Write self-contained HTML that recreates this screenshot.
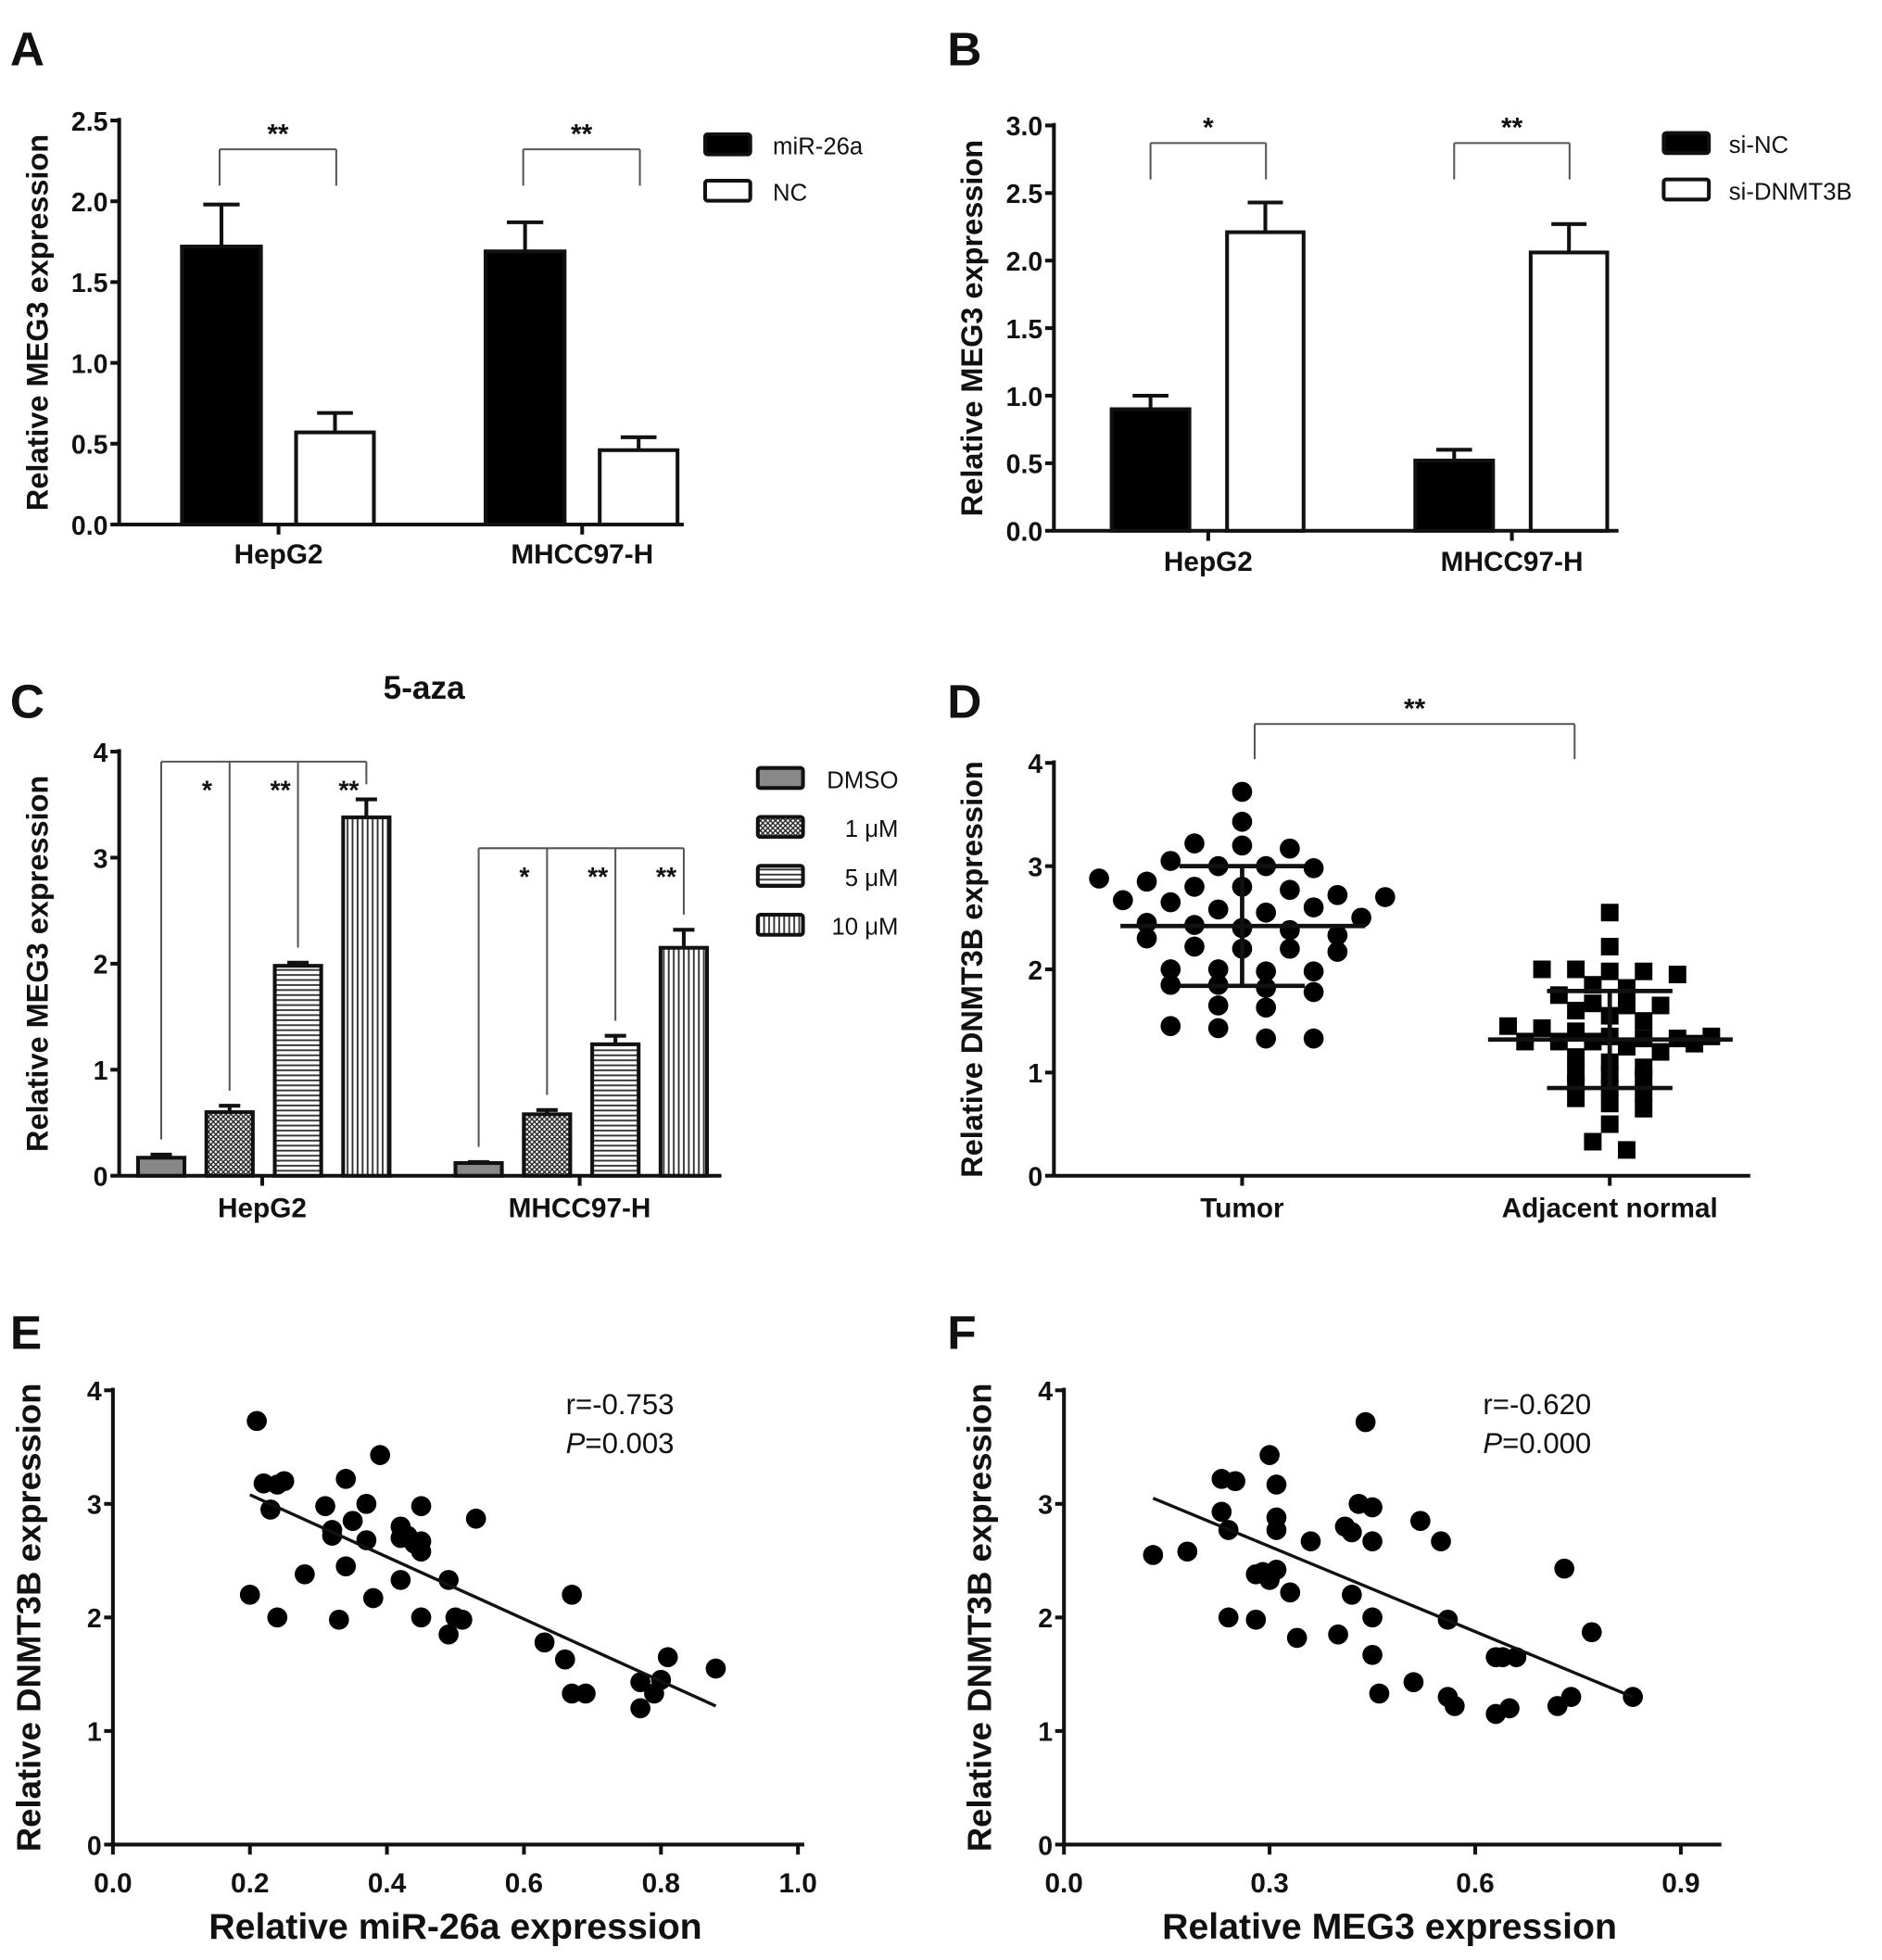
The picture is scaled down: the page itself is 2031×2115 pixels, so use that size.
<!DOCTYPE html>
<html><head><meta charset="utf-8">
<style>
html,body{margin:0;padding:0;background:#fff;}
svg{display:block;font-family:"Liberation Sans",Arial,sans-serif;}
</style></head>
<body>
<svg id="fig" width="2031" height="2115" viewBox="0 0 1500 1562" preserveAspectRatio="none" xmlns="http://www.w3.org/2000/svg">
<defs>
<pattern id="pCheck" width="4" height="4" patternUnits="userSpaceOnUse"><rect width="4" height="4" fill="#fff"/><path d="M0 0L4 4M4 0L0 4" stroke="#222" stroke-width="1"/></pattern>
<pattern id="pH" width="4" height="4" patternUnits="userSpaceOnUse"><rect width="4" height="4" fill="#fff"/><path d="M0 1H4" stroke="#333" stroke-width="1.4"/></pattern>
<pattern id="pV" width="4" height="4" patternUnits="userSpaceOnUse"><rect width="4" height="4" fill="#fff"/><path d="M1 0V4" stroke="#333" stroke-width="1.4"/></pattern>
</defs>
</svg>
<script>
// ---------- DATA ----------
const aCats = ["HepG2","MHCC97-H"];
const aSeries = ["miR-26a","NC"];
const aMiR = [1.72,1.69];
const aMiRErr = [0.26,0.18];
const aNC = [0.57,0.46];
const aNCErr = [0.12,0.08];
const aTicks = ["0.0","0.5","1.0","1.5","2.0","2.5"];

const bCats = ["HepG2","MHCC97-H"];
const bSeries = ["si-NC","si-DNMT3B"];
const bSiNC = [0.90,0.52];
const bSiNCErr = [0.10,0.08];
const bSiD = [2.21,2.06];
const bSiDErr = [0.22,0.21];
const bTicks = ["0.0","0.5","1.0","1.5","2.0","2.5","3.0"];

const cCats = ["HepG2","MHCC97-H"];
const cSeries = ["DMSO","1 μM","5 μM","10 μM"];
const cHep = [0.17,0.60,1.98,3.38];
const cHepErr = [0.03,0.06,0.03,0.17];
const cMH = [0.12,0.58,1.24,2.15];
const cMHErr = [0.01,0.04,0.08,0.17];
const cTicks = ["0","1","2","3","4"];

const dCats = ["Tumor","Adjacent normal"];
const dTumor = [3.72,3.43,3.22,3.2,3.17,3.05,3.0,3.0,2.98,2.88,2.85,2.8,2.8,2.77,2.72,2.7,2.67,2.65,2.58,2.55,2.45,2.43,2.4,2.38,2.33,2.3,2.22,2.2,2.2,2.17,2.0,2.0,1.98,1.98,1.85,1.85,1.82,1.78,1.65,1.63,1.45,1.43,1.33,1.33,2.6,2.5];
const dNormal = [2.55,2.22,2.0,2.0,1.98,1.98,1.95,1.85,1.82,1.75,1.67,1.65,1.65,1.6,1.55,1.5,1.45,1.43,1.4,1.35,1.33,1.33,1.3,1.3,1.3,1.25,1.2,1.15,1.1,1.05,1.0,0.98,0.95,0.9,0.85,0.8,0.75,0.7,0.65,0.5,0.33,0.25,1.35,1.28];
const dMean = [2.42,1.32];
const dSD = [0.58,0.47];
const dTicks = ["0","1","2","3","4"];

const eX = [0.21,0.22,0.24,0.25,0.23,0.2,0.24,0.28,0.31,0.32,0.32,0.34,0.35,0.37,0.37,0.34,0.33,0.38,0.39,0.42,0.43,0.44,0.45,0.45,0.45,0.42,0.45,0.49,0.49,0.51,0.53,0.63,0.66,0.67,0.67,0.69,0.77,0.77,0.79,0.8,0.81,0.88,0.5,0.42];
const eY = [3.73,3.18,3.17,3.2,2.95,2.2,2.0,2.38,2.98,2.72,2.77,3.22,2.85,3.0,2.68,2.45,1.98,2.17,3.43,2.8,2.72,2.65,2.98,2.67,2.58,2.33,2.0,2.33,1.85,1.98,2.87,1.78,1.63,2.2,1.33,1.33,1.43,1.2,1.33,1.45,1.65,1.55,2.0,2.7];
const eFitX = [0.2,0.88];
const eFitY = [3.08,1.22];
const eXTicks = ["0.0","0.2","0.4","0.6","0.8","1.0"];

const fX = [0.13,0.18,0.23,0.23,0.24,0.25,0.24,0.28,0.28,0.3,0.3,0.31,0.31,0.31,0.31,0.33,0.34,0.36,0.4,0.41,0.42,0.42,0.43,0.44,0.45,0.45,0.45,0.45,0.46,0.51,0.52,0.55,0.56,0.56,0.57,0.63,0.64,0.63,0.65,0.66,0.72,0.73,0.74,0.77,0.83,0.29];
const fY = [2.55,2.58,3.22,2.93,2.77,3.2,2.0,2.38,1.98,2.33,3.43,3.17,2.88,2.77,2.42,2.22,1.82,2.67,1.85,2.8,2.75,2.2,3.0,3.72,2.97,2.67,2.0,1.67,1.33,1.43,2.85,2.67,1.98,1.3,1.22,1.65,1.65,1.15,1.2,1.65,1.22,2.43,1.3,1.87,1.3,2.4];
const fFitX = [0.13,0.83];
const fFitY = [3.05,1.3];
const fXTicks = ["0.0","0.3","0.6","0.9"];
const scatTicks = ["0","1","2","3","4"];

// ---------- HELPERS ----------
const svg = document.getElementById('fig');
const NS = 'http://www.w3.org/2000/svg';
function mk(tag, attrs, parent){
  const e = document.createElementNS(NS, tag);
  for (const k in attrs) e.setAttribute(k, attrs[k]);
  (parent||svg).appendChild(e);
  return e;
}
function txt(s, x, y, size, anchor, parent, extra){
  const t = mk('text', Object.assign({x:x,y:y,'font-size':size,'font-weight':'bold','text-anchor':anchor||'middle',fill:'#111'}, extra||{}), parent);
  t.textContent = s;
  return t;
}
function line(x1,y1,x2,y2,w,parent,col){
  return mk('line',{x1:x1,y1:y1,x2:x2,y2:y2,stroke:col||'#111','stroke-width':w||3},parent);
}
function yAxis(g, x0, yBottom, yTop, ticks, vmax, title, xEnd, titleSize, titleOff){
  const ax = line(x0, yBottom, x0, yTop-2, 3, g);
  
  
  const xa = line(x0, yBottom, xEnd, yBottom, 3, g);
  
  
  ticks.forEach(function(tk){
    const v = parseFloat(tk);
    const y = yBottom - v/vmax*(yBottom-yTop);
    line(x0-7, y, x0, y, 3, g);
    const t = txt(tk, x0-9, y+8, 21, 'end', g);
    
    
  });
  const tt = txt(title, 0, 0, titleSize||24, 'middle', g, {transform:'translate('+(x0-(titleOff||57))+','+((yBottom+yTop)/2)+') rotate(-90)'});
  
  
}
function panelLetter(s,x,y){
  const t = txt(s,x,y,38,'start');
  
  
}
function bar(g, x, w, yBottom, v, err, sc, fill, name){
  const h = v*sc;
  const r = mk('rect',{x:x,y:yBottom-h,width:w,height:h,fill:fill,stroke:'#111','stroke-width':3},g);
  
  
  const cx = x+w/2, yt = yBottom-h, ye = yBottom-(v+err)*sc;
  line(cx, yt, cx, ye, 3, g);
  line(cx-w*0.23, ye, cx+w*0.23, ye, 3, g);
}
function bracket(g, x1, x2, y, yd, label, col){
  line(x1, yd, x1, y, 1.5, g, col||'#555');
  line(x1, y, x2, y, 1.5, g, col||'#555');
  line(x2, y, x2, yd, 1.5, g, col||'#555');
  const t = txt(label, (x1+x2)/2, y-5, 22, 'middle', g);
  
  
}

// ---------- PANEL A ----------
(function(){
  const g = mk('g',{});
  
  
  panelLetter('A',8,52);
  const x0=95, yb=418, yt=96, vmax=2.5, sc=(yb-yt)/vmax;
  yAxis(g,x0,yb,yt,aTicks,vmax,'Relative MEG3 expression',545);
  const groupX=[145,387];
  aCats.forEach(function(c,i){
    bar(g, groupX[i], 63, yb, aMiR[i], aMiRErr[i], sc, '#000', 'bar-mir26a-'+c.toLowerCase());
    bar(g, groupX[i]+91, 62, yb, aNC[i], aNCErr[i], sc, '#fff', 'bar-nc-'+c.toLowerCase());
    line(groupX[i]+77, yb, groupX[i]+77, yb+8, 3, g);
    const t = txt(c, groupX[i]+77, 449, 22, 'middle', g);
    
    
    bracket(g, groupX[i]+30, groupX[i]+123, 119, 148, '**');
  });
  const fills=['#000','#fff'];
  aSeries.forEach(function(s,i){
    const le = mk('rect',{x:562,y:107+i*37,width:36,height:16,rx:2,fill:fills[i],stroke:'#111','stroke-width':3},g);
    
    
    const t = txt(s,616,123+i*37,19,'start',g,{'font-weight':'normal'});
    
    
  });
})();

// ---------- PANEL B ----------
(function(){
  const g = mk('g',{});
  
  
  panelLetter('B',755,52);
  const x0=840, yb=423, yt=100, vmax=3.0, sc=(yb-yt)/vmax;
  yAxis(g,x0,yb,yt,bTicks,vmax,'Relative MEG3 expression',1290);
  const groupX=[886,1128];
  const labs=['*','**'];
  bCats.forEach(function(c,i){
    bar(g, groupX[i], 62, yb, bSiNC[i], bSiNCErr[i], sc, '#000', 'bar-si-nc-'+c.toLowerCase());
    bar(g, groupX[i]+92, 61, yb, bSiD[i], bSiDErr[i], sc, '#fff', 'bar-si-dnmt3b-'+c.toLowerCase());
    line(groupX[i]+77, yb, groupX[i]+77, yb+8, 3, g);
    const t = txt(c, groupX[i]+77, 455, 22, 'middle', g);
    
    
    bracket(g, groupX[i]+31, groupX[i]+123, 114, 143, labs[i]);
  });
  const fills=['#000','#fff'];
  bSeries.forEach(function(s,i){
    const le = mk('rect',{x:1326,y:106+i*37,width:36,height:16,rx:2,fill:fills[i],stroke:'#111','stroke-width':3},g);
    
    
    const t = txt(s,1378,122+i*37,19,'start',g,{'font-weight':'normal'});
    
    
  });
})();

// ---------- PANEL C ----------
(function(){
  const g = mk('g',{});
  
  
  panelLetter('C',8,572);
  const tt = txt('5-aza',338,557,26,'middle',g);
  
  
  const x0=95, yb=937, yt=599, vmax=4, sc=(yb-yt)/vmax;
  yAxis(g,x0,yb,yt,cTicks,vmax,'Relative MEG3 expression',575);
  const fills=['#888','url(#pCheck)','url(#pH)','url(#pV)'];
  const starts=[110,363];
  const vals=[cHep,cMH], errs=[cHepErr,cMHErr];
  const labs=['*','**','**'];
  const topY=[607,676];
  cCats.forEach(function(c,i){
    const cx=[];
    cSeries.forEach(function(s,j){
      const x = starts[i]+j*54.5;
      bar(g, x, 37, yb, vals[i][j], errs[i][j], sc, fills[j], 'bar-'+s.replace(/\s|μ/g,'').toLowerCase()+'-'+c.toLowerCase());
      cx.push(x+18.5);
    });
    line(starts[i]+99, yb, starts[i]+99, yb+8, 3, g);
    const t = txt(c, starts[i]+99, 970, 22, 'middle', g);
    
    
    line(cx[0], topY[i], cx[3], topY[i], 1.5, g, '#555');
    line(cx[0], topY[i], cx[0], yb-(vals[i][0]+errs[i][0])*sc-12, 1.5, g, '#555');
    for (let j=1;j<4;j++){
      line(cx[j], topY[i], cx[j], yb-(vals[i][j]+errs[i][j])*sc-12, 1.5, g, '#555');
      const st = txt(labs[j-1], cx[j]-18+(j===1?0:4), topY[i]+30, 21, 'middle', g);
      
      
    }
  });
  cSeries.forEach(function(s,i){
    const le = mk('rect',{x:604,y:612+i*39,width:36,height:16,rx:2,fill:fills[i],stroke:'#111','stroke-width':3},g);
    
    
    const t = txt(s,716,628+i*39,19,'end',g,{'font-weight':'normal'});
    
    
  });
})();

// ---------- PANEL D ----------
(function(){
  const g = mk('g',{});
  
  
  panelLetter('D',755,572);
  const x0=840, yb=937, yt=608, vmax=4, sc=(yb-yt)/vmax;
  yAxis(g,x0,yb,yt,dTicks,vmax,'Relative DNMT3B expression',1395);
  const centers=[990,1283];
  const groups=[dTumor,dNormal];
  const binW=[0.2,0.14], spacing=[38,27];
  dCats.forEach(function(c,i){
    line(centers[i], yb, centers[i], yb+8, 3, g);
    const t = txt(c, centers[i], 970, 22, 'middle', g);
    
    
    const bins={};
    groups[i].forEach(function(v){
      const b=Math.round(v/binW[i]);
      (bins[b]=bins[b]||[]).push(v);
    });
    Object.keys(bins).forEach(function(b){
      const arr=bins[b];
      arr.forEach(function(v,k){
        const off=(k-(arr.length-1)/2)*spacing[i];
        const x=centers[i]+off, y=yb-v*sc;
        let m;
        if(i===0){ m = mk('circle',{cx:x,cy:y,r:8,fill:'#000'},g); }
        else { m = mk('rect',{x:x-7,y:y-7,width:14,height:14,fill:'#000'},g); }
        
        
      });
    });
    const my=yb-dMean[i]*sc, hy=yb-(dMean[i]+dSD[i])*sc, ly=yb-(dMean[i]-dSD[i])*sc;
    const ml=line(centers[i]-97, my, centers[i]+98, my, 3.5, g);
    
    
    line(centers[i], hy, centers[i], ly, 3.5, g);
    line(centers[i]-50, hy, centers[i]+50, hy, 3.5, g);
    line(centers[i]-50, ly, centers[i]+50, ly, 3.5, g);
  });
  bracket(g, 1000, 1255, 577, 605, '**');
})();

// ---------- SCATTER PANELS ----------
function scatter(letter, lx, x0, xEndPx, xmax, xTicks, xs, ys, fx, fy, xTitle, r, p){
  const g = mk('g',{});
  
  
  panelLetter(letter, lx, 1075);
  const yb=1470, yt=1108, vmax=4, sc=(yb-yt)/vmax;
  const xs_ = function(v){ return x0 + v/xmax*(xEndPx-x0); };
  yAxis(g, x0, yb, yt, scatTicks, vmax, 'Relative DNMT3B expression', xEndPx+5, 27, 58);
  xTicks.forEach(function(tk){
    const x = xs_(parseFloat(tk));
    line(x, yb, x, yb+8, 3, g);
    const t = txt(tk, x, yb+38, 22, 'middle', g);
    
    
  });
  const xt = txt(xTitle, (x0+xEndPx)/2, 1545, 29, 'middle', g);
  
  
  xs.forEach(function(v,i){
    const c = mk('circle',{cx:xs_(v),cy:yb-ys[i]*sc,r:8,fill:'#000'},g);
    
    
  });
  const fl = line(xs_(fx[0]), yb-fy[0]*sc, xs_(fx[1]), yb-fy[1]*sc, 2.5, g);
  
  
  const rt = txt(r, xEndPx-185, 1127, 23, 'start', g, {'font-weight':'normal'});
  
  
  const pt = mk('text',{x:xEndPx-185,y:1158,'font-size':23,fill:'#111'},g);
  pt.innerHTML = '<tspan font-style="italic">P</tspan>='+p;
  
  
}
scatter('E', 8, 90, 636, 1.0, eXTicks, eX, eY, eFitX, eFitY, 'Relative miR-26a expression', 'r=-0.753', '0.003');
scatter('F', 755, 848, 1367, 0.95, fXTicks, fX, fY, fFitX, fFitY, 'Relative MEG3 expression', 'r=-0.620', '0.000');
</script>
</body></html>
